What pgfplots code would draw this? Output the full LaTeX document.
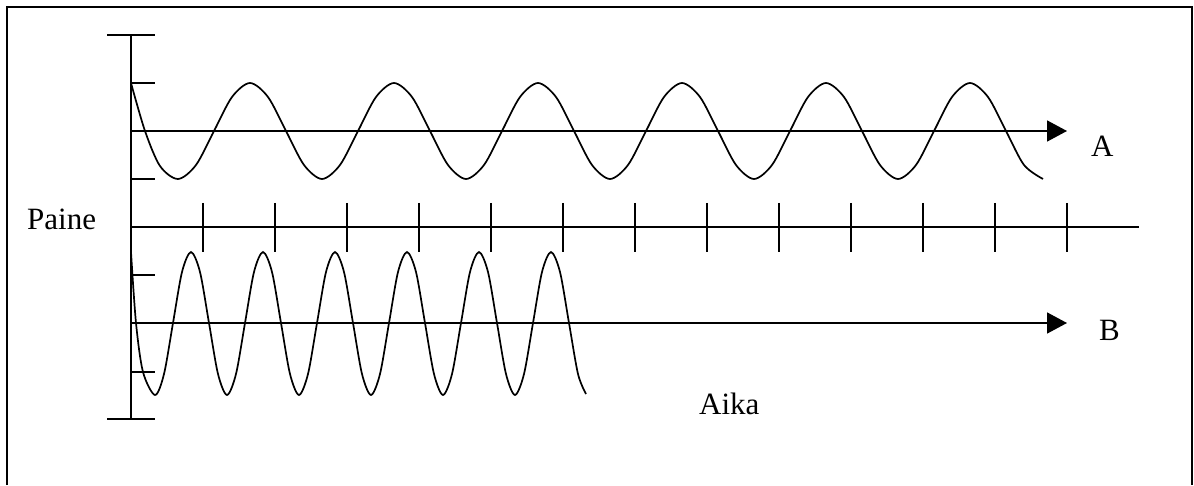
\documentclass[border=0pt]{standalone}
\usepackage{pgfplots}
\pgfplotsset{compat=1.18}
\usetikzlibrary{arrows.meta}
\usepackage{fontspec}
\setmainfont{Liberation Serif}

\begin{document}
\begin{tikzpicture}[lbl/.style={font=\fontsize{31}{36}\selectfont, anchor=base west, inner sep=0pt}]
\begin{axis}[
  x=1pt, y=1pt, y dir=reverse,
  xmin=0, xmax=1194, ymin=0, ymax=485,
  hide axis, clip=false,
  cycle list={{black, solid}},
  every axis plot/.append style={black, solid, line width=1.6pt, no markers},
]
% bounding box
\addplot[draw=none] coordinates {(0,0) (1194,485)};
% outer frame (bottom edge lies beyond the picture)
\addplot[black, line width=2pt] coordinates {(7,485) (7,7) (1192,7) (1192,485)};

% force axis with end bars and level ticks
\addplot coordinates {(131,35) (131,419)};
\addplot coordinates {(107,35) (155,35)};
\addplot coordinates {(107,419) (155,419)};
\addplot coordinates {(131,83) (155,83)};
\addplot coordinates {(131,179) (155,179)};
\addplot coordinates {(131,275) (155,275)};
\addplot coordinates {(131,372) (155,372)};

% time axis with ticks
\addplot coordinates {(131,227) (1139,227)};
\pgfplotsinvokeforeach{203,275,347,419,491,563,635,707,779,851,923,995,1067}{
  \addplot coordinates {(#1,203) (#1,252)};
}

% baselines of the two waves
\addplot[black, -{Triangle[length=20pt,width=21pt]}] coordinates {(131,131) (1067,131)};
\addplot[black, -{Triangle[length=20pt,width=21pt]}] coordinates {(131,323) (1067,323)};

% wave A
\addplot[black, smooth, tension=0.5, line width=1.7pt] coordinates {
(131,83) (145,131) (160,166) (178,179)
(196,165) (214,131) (232,97) (250,83) (268,97) (286,131) (304,165) (322,179)
(340,165) (358,131) (376,97) (394,83) (412,97) (430,131) (448,165) (466,179)
(484,165) (502,131) (520,97) (538,83) (556,97) (574,131) (592,165) (610,179)
(628,165) (646,131) (664,97) (682,83) (700,97) (718,131) (736,165) (754,179)
(772,165) (790,131) (808,97) (826,83) (844,97) (862,131) (880,165) (898,179)
(916,165) (934,131) (952,97) (970,83) (988,97) (1006,131) (1024,165) (1043,179)
};

% wave B
\addplot[black, smooth, tension=0.5, line width=1.7pt] coordinates {
(131,252) (136,323) (143,372) (155,395)
(164,374) (173,323) (182,272) (191,252) (200,272) (209,323) (218,374) (227,395)
(236,374) (245,323) (254,272) (263,252) (272,272) (281,323) (290,374) (299,395)
(308,374) (317,323) (326,272) (335,252) (344,272) (353,323) (362,374) (371,395)
(380,374) (389,323) (398,272) (407,252) (416,272) (425,323) (434,374) (443,395)
(452,374) (461,323) (470,272) (479,252) (488,272) (497,323) (506,374) (515,395)
(524,374) (533,323) (542,272) (551,252) (560,272) (569,323) (578,374) (586,394)
};

\node[lbl] at (axis cs:27,230) {Paine};
\node[lbl] at (axis cs:699,414) {Aika};
\node[lbl] at (axis cs:1091,157) {A};
\node[lbl] at (axis cs:1099,341) {B};
\end{axis}
\end{tikzpicture}
\end{document}
